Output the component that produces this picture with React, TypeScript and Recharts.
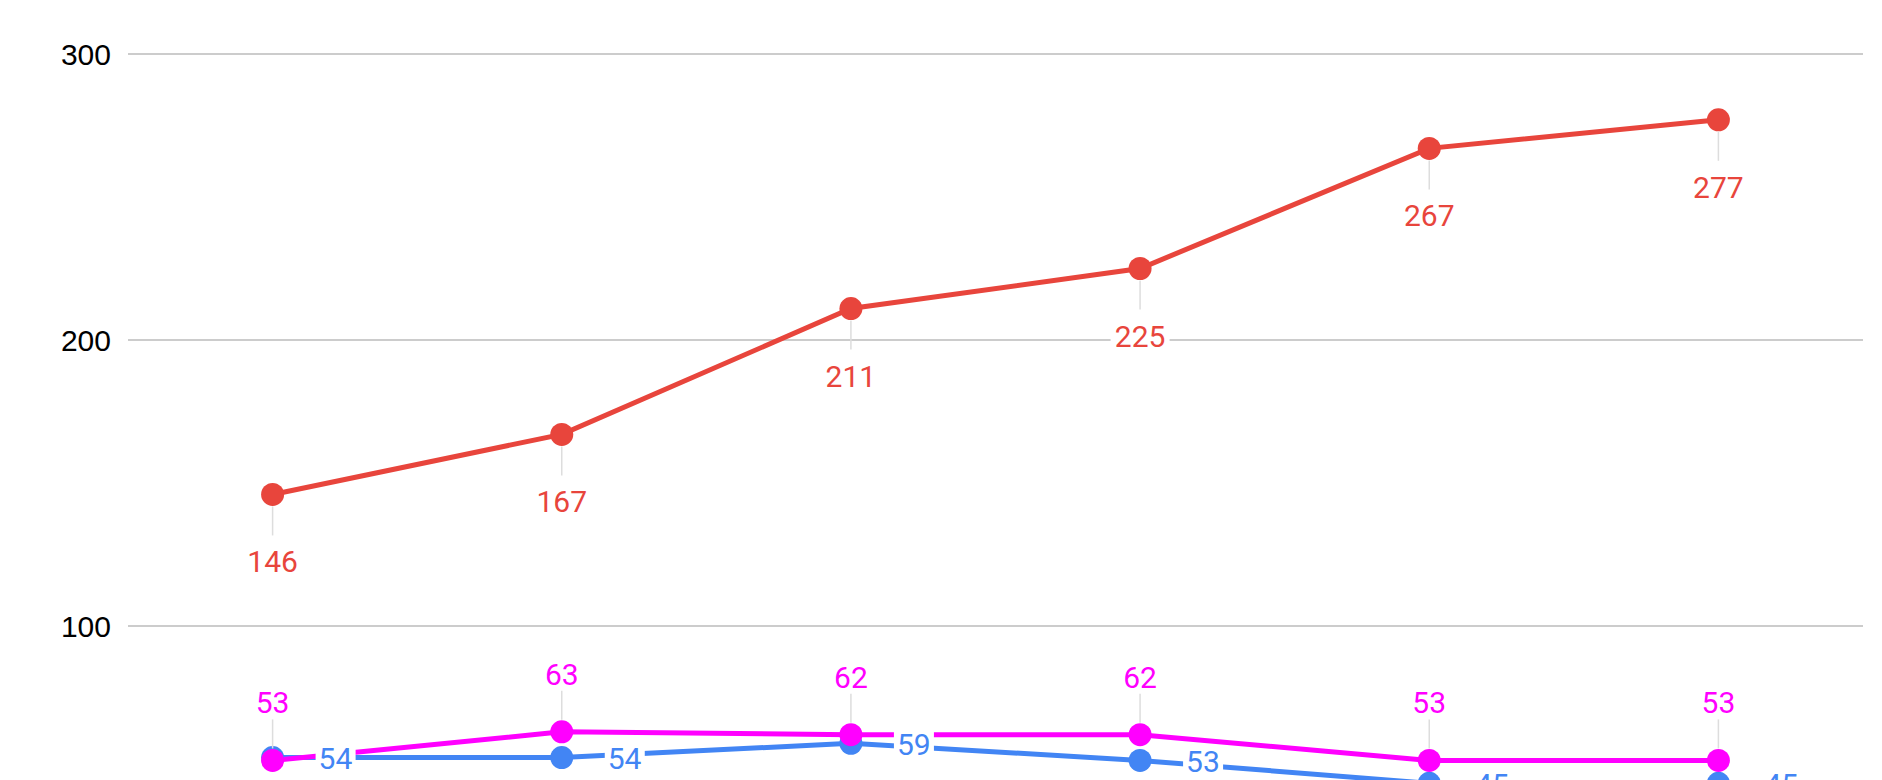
import { LineChart, Line, XAxis, YAxis, CartesianGrid, LabelList } from 'recharts';

const categories = ['1', '2', '3', '4', '5', '6'];
const redValues = [146, 167, 211, 225, 267, 277];
const magentaValues = [53, 63, 62, 62, 53, 53];
const blueValues = [54, 54, 59, 53, 45, 45];
const yTicks = [0, 100, 200, 300];

const RED = '#e8453c';
const MAGENTA = '#ff00ff';
const BLUE = '#4285f4';
const LABEL_FONT = 'Roboto, "Noto Sans", sans-serif';

const data = categories.map((c, i) => ({
  cat: c,
  red: redValues[i],
  magenta: magentaValues[i],
  blue: blueValues[i],
}));

// label under the point, with a thin leader line
function RedLabel(props: any) {
  const { x, y, value } = props;
  if (x == null || y == null) return null;
  const w = String(value).length * 17;
  return (
    <g>
      <line x1={x} y1={y + 12} x2={x} y2={y + 41} stroke="#dddddd" strokeWidth={1.5} />
      <rect x={x - w / 2 - 4} y={y + 53} width={w + 8} height={30} fill="#fff" />
      <text x={x} y={y + 78} textAnchor="middle" fill={RED} fontSize={30} fontFamily={LABEL_FONT}>
        {value}
      </text>
    </g>
  );
}

// label above the point
function MagentaLabel(props: any) {
  const { x, y, value } = props;
  if (x == null || y == null) return null;
  return (
    <g>
      <line x1={x} y1={y - 12} x2={x} y2={y - 41} stroke="#dddddd" strokeWidth={1.5} />
      <text x={x} y={y - 47} textAnchor="middle" fill={MAGENTA} fontSize={30} fontFamily={LABEL_FONT}>
        {value}
      </text>
    </g>
  );
}

// label to the right, sitting on the line with a white box
function BlueLabel(props: any) {
  const { x, y, value } = props;
  if (x == null || y == null) return null;
  const w = String(value).length * 17;
  return (
    <g>
      <rect x={x + 43} y={y - 13} width={w + 6} height={27} fill="#fff" />
      <text x={x + 46} y={y + 11.5} fill={BLUE} fontSize={30} fontFamily={LABEL_FONT}>
        {value}
      </text>
    </g>
  );
}

export default function App() {
  return (
    <div style={{ position: 'absolute', top: 0, left: 0, width: 1882, height: 780, overflow: 'hidden', background: '#fff' }}>
      <LineChart width={1882} height={940} data={data} margin={{ top: 54, right: 19, left: 0, bottom: 28 }}>
        <CartesianGrid vertical={false} stroke="#cccccc" strokeWidth={2} />
        <XAxis dataKey="cat" hide padding={{ left: 144.6, right: 144.6 }} />
        <YAxis
          width={128}
          domain={[0, 300]}
          ticks={yTicks}
          tickLine={false}
          axisLine={false}
          tickMargin={11}
          tick={{ fill: '#000', fontSize: 30, fontFamily: '"Liberation Sans", Arial, sans-serif' }}
        />
        <Line
          dataKey="red"
          stroke={RED}
          strokeWidth={5}
          dot={{ r: 11.5, fill: RED, stroke: RED, strokeWidth: 0 }}
          activeDot={false}
          isAnimationActive={false}
        >
          <LabelList dataKey="red" content={RedLabel} />
        </Line>
        <Line
          dataKey="blue"
          stroke={BLUE}
          strokeWidth={5}
          dot={{ r: 11.5, fill: BLUE, stroke: BLUE, strokeWidth: 0 }}
          activeDot={false}
          isAnimationActive={false}
        />
        <Line
          dataKey="magenta"
          stroke={MAGENTA}
          strokeWidth={5}
          dot={{ r: 11.5, fill: MAGENTA, stroke: MAGENTA, strokeWidth: 0 }}
          activeDot={false}
          isAnimationActive={false}
        >
          <LabelList dataKey="magenta" content={MagentaLabel} />
        </Line>
        {/* blue labels drawn last so their boxes sit over the magenta line */}
        <Line
          dataKey="blue"
          stroke="none"
          dot={false}
          activeDot={false}
          legendType="none"
          isAnimationActive={false}
        >
          <LabelList dataKey="blue" content={BlueLabel} />
        </Line>
      </LineChart>
    </div>
  );
}
